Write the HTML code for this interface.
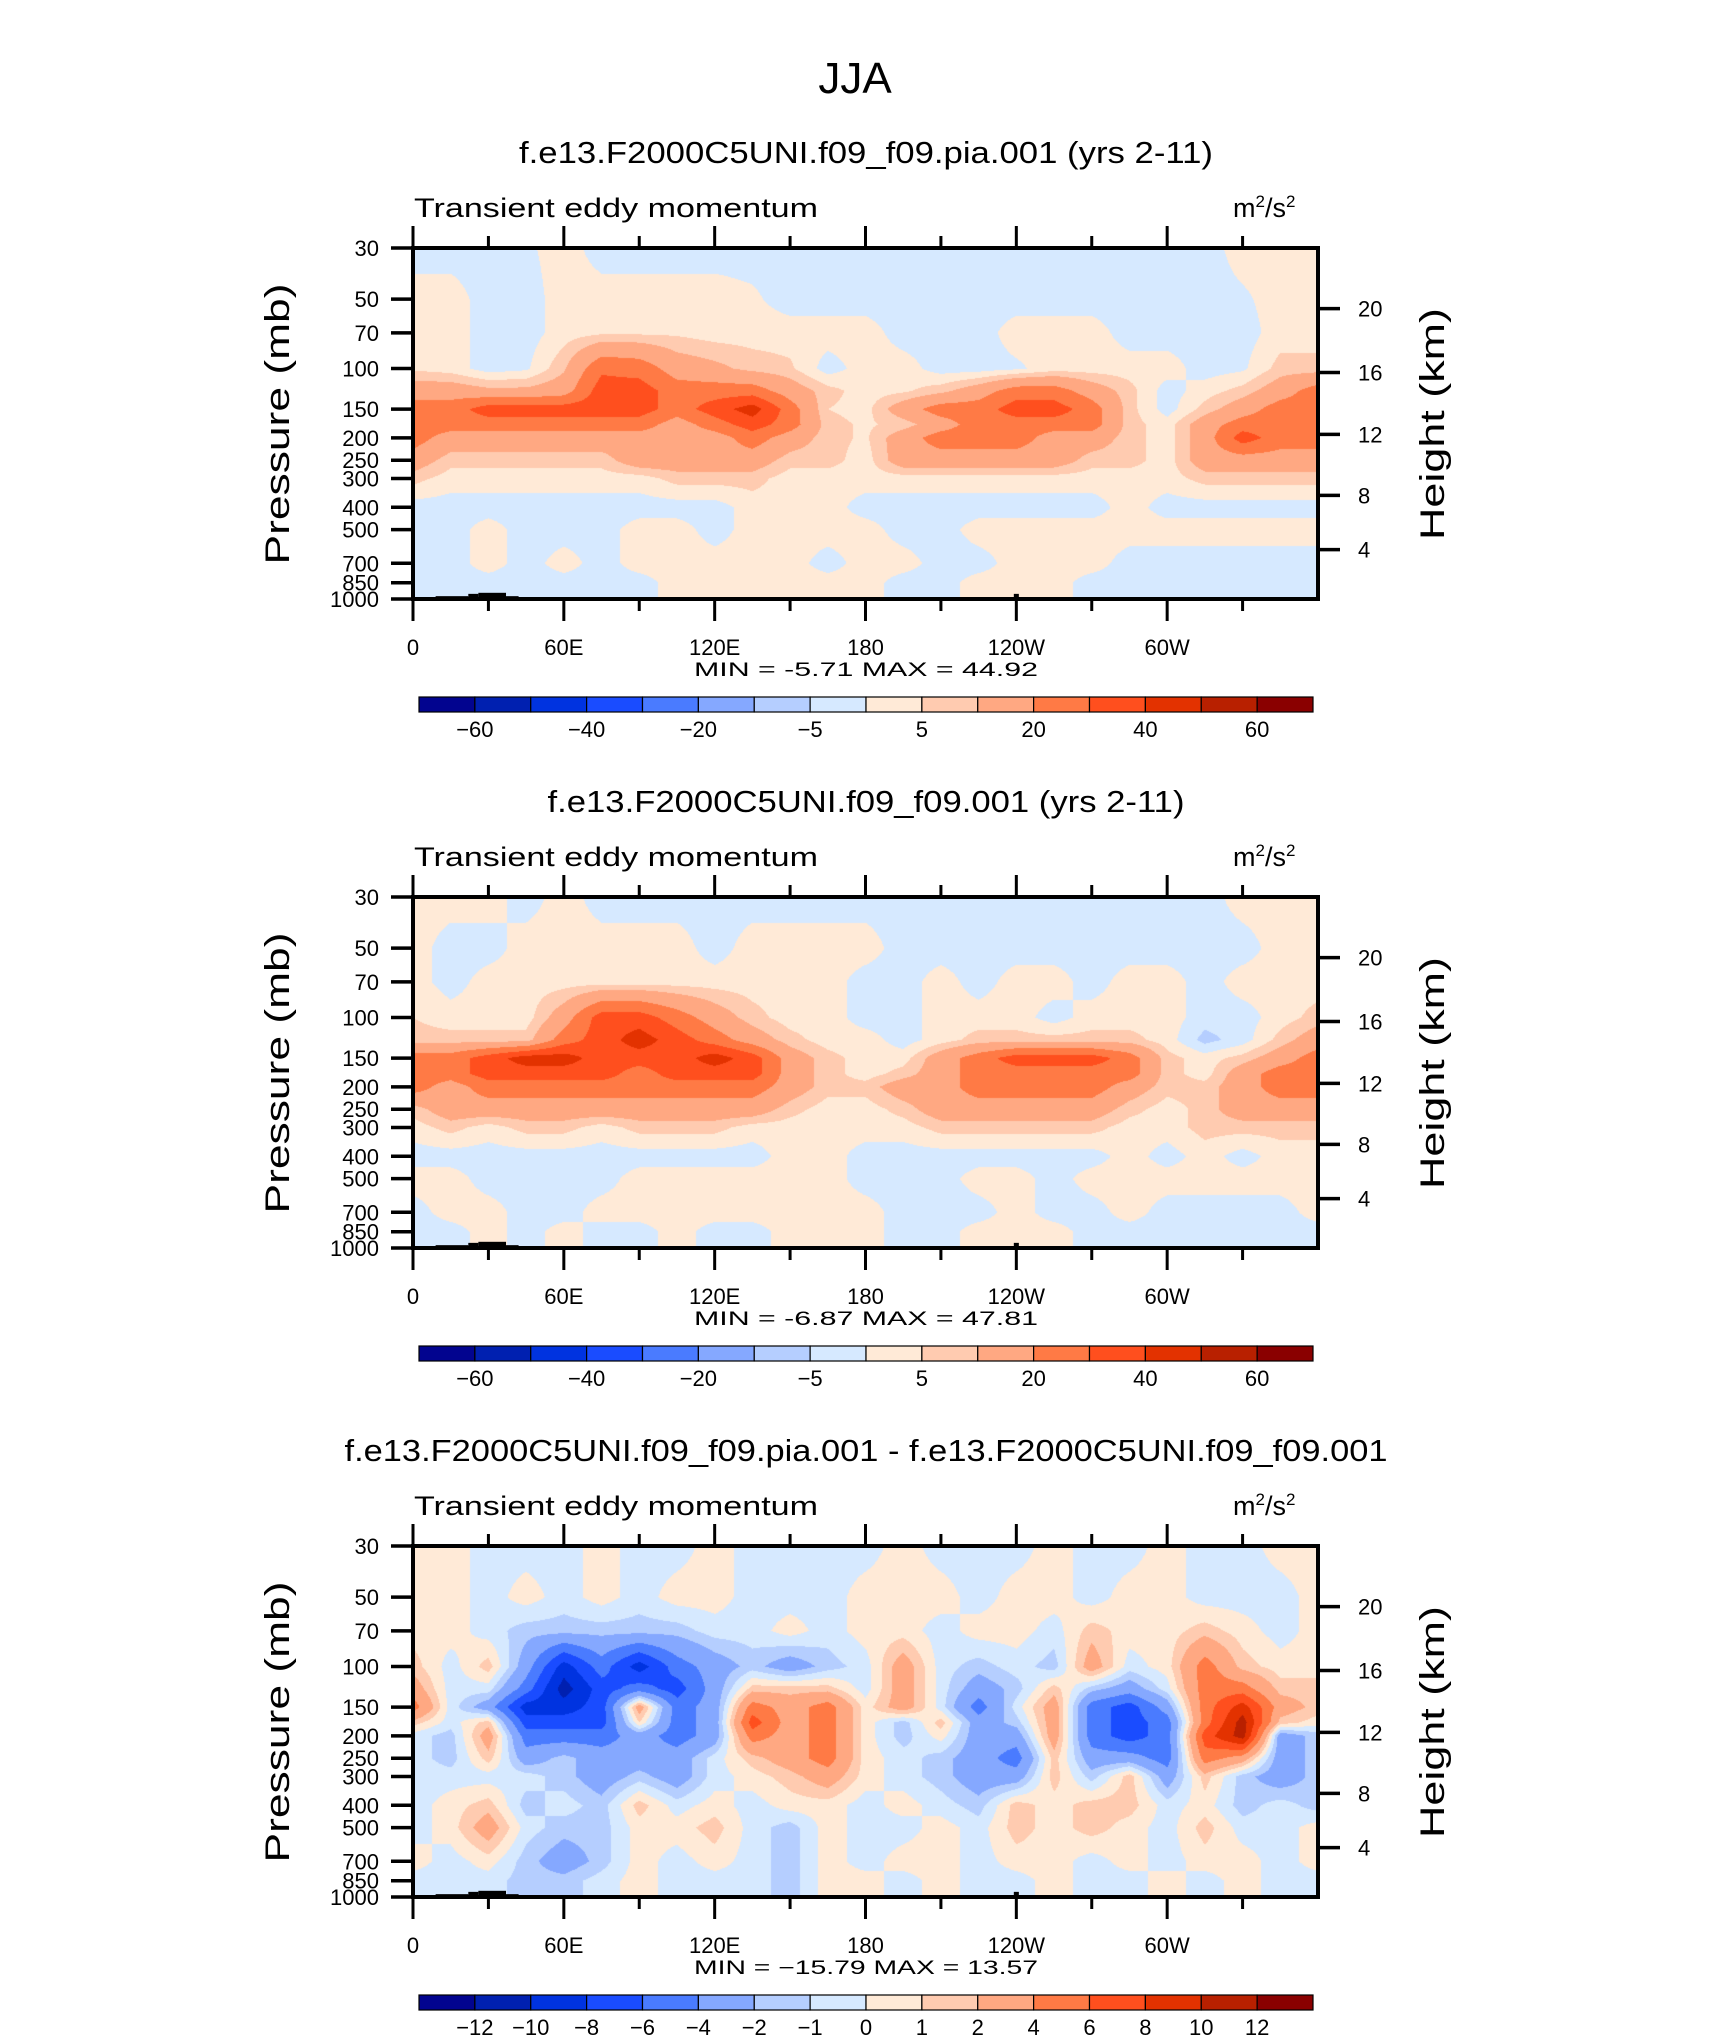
<!DOCTYPE html>
<html><head><meta charset="utf-8"><style>
html,body{margin:0;padding:0;background:#fff;}
#wrap{position:relative;width:1710px;height:2038px;overflow:hidden;background:#fff;}
canvas{position:absolute;}
svg{position:absolute;left:0;top:0;}
text{font-family:"Liberation Sans",sans-serif;fill:#000;}
</style></head><body>
<div id="wrap">
<canvas id="c0" width="905" height="351" style="left:413px;top:248px"></canvas>
<canvas id="c1" width="905" height="351" style="left:413px;top:897px"></canvas>
<canvas id="c2" width="905" height="351" style="left:413px;top:1546px"></canvas>
<svg id="s" width="1710" height="2038">
<text x="855" y="93" font-size="44" text-anchor="middle" font-weight="300">JJA</text>
</svg>
</div>
<script>
const plev = [30,50,70,100,125,150,175,200,250,300,400,500,700,850,1000];
const lons = [0,15,30,45,60,75,90,105,120,135,150,165,180,195,210,225,240,255,270,285,300,315,330,345,360];
const pTicks = [30,50,70,100,150,200,250,300,400,500,700,850,1000];
const hTickLabels = [20,16,12,8,4];
const hTickPress = [55,104,193,355,611];
const lonTicks = [0,30,60,90,120,150,180,210,240,270,300,330,360];
const lonLabels = ["0","","60E","","120E","","180","","120W","","60W","",""];
const levA = [-60,-50,-40,-30,-20,-10,-5,0,5,10,20,30,40,50,60];
const levB = [-12,-10,-8,-6,-4,-2,-1,0,1,2,4,6,8,10,12];
const labA = ["-60","","-40","","-20","","-5","","5","","20","","40","","60"];
const labB = ["-12","-10","-8","-6","-4","-2","-1","0","1","2","4","6","8","10","12"];
const colors = ["#02048f","#0020b0","#0033e0","#1a4cff","#4a7bff","#85a8ff","#b5ceff","#d6e9ff","#ffead7","#ffcbb0","#ffa882","#ff7a45","#ff4f1e","#e33200","#b82000","#8a0000"];
const titles = ["f.e13.F2000C5UNI.f09_f09.pia.001 (yrs 2-11)","f.e13.F2000C5UNI.f09_f09.001 (yrs 2-11)","f.e13.F2000C5UNI.f09_f09.pia.001 - f.e13.F2000C5UNI.f09_f09.001"];
const titleWidths = [694,637,1043];
const minVals = ["-5.71","-6.87","\u221215.79"];
const maxVals = ["44.92","47.81","13.57"];
const topoSegLon0 = [9,22,26,37,239,241];
const topoSegLon1 = [22,26,37,42,241,258];
const topoSegP = [972,950,940,972,950,988];

const F1 = [
[-2.5,-2.5,-2.5,-1,2.5,-2.5,-2.5,-2.5,-2.5,-2.5,-2.5,-2.5,-2.5,-2.5,-2.5,-2.5,-2.5,-2.5,-2.5,-2.5,-2.5,-2.5,2.5,2.5,2.5],
[2.5,2.5,-2.5,-2.5,2.5,2.5,2.5,2.5,2.5,1,-2.5,-2.5,-2.5,-2.5,-2.5,-2.5,-2.5,-2.5,-2.5,-2.5,-2.5,-2.5,-1,2.5,2.5],
[2.5,2.5,-2.5,-2.5,2.5,4,4,4,2.5,2.5,2.5,2.5,2.5,-2.5,-2.5,-2.5,2.5,2.5,2.5,-2.5,-2.5,-2.5,-2.5,2.5,2.5],
[4,2.5,-2.5,-1,9,28,26,15,12,8,6,-2.5,2.5,2.5,-2.5,-2.5,-1,2.5,2.5,2.5,2.5,-2.5,-1,7,7],
[15,15,12,12,15,35,35,25,25,25,15,7,2.5,4,8,15,25,25,15,7,-2.5,2.5,7,15,25],
[25,25,35,35,35,35,35,25,35,45,25,5,3,15,25,25,35,35,25,7,-2.5,7,15,25,25],
[25,25,25,25,25,25,25,15,25,35,25,7,4,7,15,25,25,25,25,7,2.5,15,25,25,25],
[25,15,15,15,15,15,15,15,15,25,15,7,4,15,25,25,25,15,15,7,2.5,15,35,25,25],
[15,7,7,7,7,7,15,15,15,15,7,7,2.5,15,15,15,15,15,7,7,2.5,15,15,15,15],
[7,2.5,2.5,2.5,2.5,2.5,2.5,7,7,7,2.5,2.5,2.5,2.5,2.5,2.5,2.5,2.5,2.5,2.5,2.5,7,7,7,7],
[-2.5,-2.5,-2.5,-2.5,-2.5,-2.5,-2.5,-2.5,-2.5,2.5,2.5,2.5,-2.5,-2.5,-2.5,-2.5,-2.5,-2.5,-2.5,2.5,-2.5,-2.5,-2.5,-2.5,-2.5],
[-2.5,-2.5,2.5,-2.5,-2.5,-2.5,2.5,2.5,-2.5,2.5,2.5,2.5,2.5,-2.5,-2.5,2.5,2.5,2.5,2.5,2.5,2.5,2.5,2.5,2.5,2.5],
[-2.5,-2.5,2.5,-2.5,2.5,-2.5,2.5,2.5,2.5,2.5,2.5,-2.5,2.5,2.5,-2.5,-2.5,2.5,2.5,2.5,-2.5,-2.5,-2.5,-2.5,-2.5,-2.5],
[-2.5,-2.5,-2.5,-2.5,-2.5,-2.5,-2.5,2.5,2.5,2.5,2.5,2.5,2.5,-2.5,-2.5,2.5,2.5,2.5,-2.5,-2.5,-2.5,-2.5,-2.5,-2.5,-2.5],
[-2.5,-2.5,-2.5,-2.5,-2.5,-2.5,-2.5,2.5,2.5,2.5,2.5,2.5,2.5,-2.5,-2.5,2.5,2.5,2.5,-2.5,-2.5,-2.5,-2.5,-2.5,-2.5,-2.5]];

const F2 = [
[2.5,2.5,2.5,-2.5,2.5,-2.5,-2.5,-2.5,-2.5,-2.5,-2.5,-2.5,-2.5,-2.5,-2.5,-2.5,-2.5,-2.5,-2.5,-2.5,-2.5,-2.5,2.5,2.5,2.5],
[2.5,-2.5,-2.5,2.5,2.5,2.5,2.5,2.5,-2.5,2.5,2.5,2.5,2.5,-2.5,-2.5,-2.5,-2.5,-2.5,-2.5,-2.5,-2.5,-2.5,-2.5,2.5,2.5],
[2.5,-2.5,2.5,2.5,2.5,2.5,2.5,2.5,2.5,2.5,2.5,2.5,-2.5,-2.5,2.5,-2.5,2.5,2.5,-2.5,2.5,2.5,-2.5,2.5,2.5,2.5],
[5,2.5,2.5,2.5,15,35,35,25,15,7,2.5,2.5,-2.5,-2.5,2.5,2.5,2.5,-2.5,2.5,2.5,2.5,-2.5,-2.5,2.5,7],
[7,7,7,7,25,35,45,35,25,15,7,2.5,2.5,-2.5,2.5,7,7,7,7,7,2.5,-7,-2.5,7,15],
[25,25,35,45,45,35,35,35,45,35,15,7,2.5,2.5,15,25,35,35,35,25,7,2.5,7,15,25],
[25,25,35,35,35,35,25,35,35,35,15,7,2.5,7,15,25,25,25,25,25,7,2.5,15,25,25],
[25,15,25,25,25,25,25,25,25,25,15,7,7,15,15,25,25,25,25,15,7,7,15,25,25],
[7,15,15,15,15,15,15,15,15,15,7,2.5,2.5,7,15,15,15,15,15,7,2.5,7,15,15,15],
[2.5,7,2.5,7,7,2.5,7,7,7,2.5,2.5,2.5,2.5,2.5,7,7,7,7,7,2.5,2.5,7,7,7,7],
[-2.5,-2.5,-2.5,-2.5,-2.5,-2.5,-2.5,-2.5,-2.5,-2.5,2.5,2.5,-2.5,-2.5,-2.5,-2.5,-2.5,-2.5,-2.5,2.5,-2.5,2.5,-2.5,2.5,2.5],
[2.5,2.5,-2.5,-2.5,-2.5,-2.5,2.5,2.5,2.5,2.5,2.5,2.5,-2.5,-2.5,-2.5,2.5,2.5,-2.5,2.5,2.5,2.5,2.5,2.5,2.5,2.5],
[-2.5,2.5,2.5,-2.5,-2.5,2.5,2.5,2.5,2.5,2.5,2.5,2.5,2.5,-2.5,-2.5,-2.5,2.5,-2.5,-2.5,2.5,-2.5,-2.5,-2.5,-2.5,2.5],
[-2.5,-2.5,2.5,-2.5,2.5,-2.5,-2.5,2.5,-2.5,-2.5,2.5,2.5,2.5,-2.5,-2.5,2.5,2.5,2.5,-2.5,-2.5,-2.5,-2.5,-2.5,-2.5,-2.5],
[-2.5,-2.5,2.5,-2.5,2.5,-2.5,-2.5,2.5,-2.5,-2.5,2.5,2.5,2.5,-2.5,-2.5,2.5,2.5,2.5,-2.5,-2.5,-2.5,-2.5,-2.5,-2.5,-2.5]];

const F3 = [
[0.5,0.5,-0.5,-0.5,-0.5,0.5,-0.5,-0.5,0.5,-0.5,-0.5,-0.5,-0.5,0.5,-0.5,-0.5,-0.5,0.5,-0.5,-0.5,0.5,-0.5,-0.5,0.5,0.5],
[0.5,0.5,-0.5,0.5,-0.5,0.5,-0.5,0.5,0.5,-0.5,-0.5,-0.5,0.5,0.5,0.5,-0.5,0.5,0.5,-0.5,0.5,0.5,-0.5,-0.5,-0.5,0.5],
[0.5,0.5,-0.5,-1.5,-1.5,-1.5,-1.5,-1.5,-0.5,-0.5,0.5,-0.5,0.5,0.5,-0.5,0.5,0.5,-0.5,1.5,0.5,0.5,1.5,0.5,-0.5,0.5],
[1.5,-0.5,1.5,-3,-9,-5,-9,-5,-3,-1.5,-3,-1.5,-0.5,3,-0.5,-1.5,-0.5,-1.5,3,-0.5,0.5,5,1.5,0.5,0.5],
[3,-0.5,-0.5,-5,-11,-7,-5,-7,-3,1.5,1.5,1.5,-0.5,3,-0.5,-3,-1.5,1.5,-1.5,-3,-0.5,5,5,1.5,1.5],
[5,-0.5,-3,-9,-9,-7,3,-5,-3,5,3,5,0.5,3,-0.5,-5,-0.5,3,-5,-7,-3,5,9,3,1.5],
[1.5,-0.5,1.5,-7,-7,-7,1,-5,-3,7,3,5,0.5,-1.5,1.5,-3,-1.5,3,-5,-7,-5,5,11,1.5,0.5],
[-0.5,-1.5,3,-5,-5,-5,-3,-5,-3,5,3,5,0.5,-1.5,0.5,-3,-3,3,-5,-7,-5,7,11,-3,-1.5],
[-0.5,-1.5,1.5,-3,-1.5,-3,-3,-3,-0.5,1.5,3,5,0.5,-0.5,-1.5,-3,-5,1.5,-3,-3,-5,5,3,-3,-1.5],
[-0.5,-0.5,-0.5,-0.5,-1.5,-3,-1.5,-3,-0.5,0.5,1.5,3,0.5,-0.5,-1.5,-3,-3,1.5,-1.5,1.5,-3,1.5,-1.5,-3,-1.5],
[-0.5,0.5,1.5,-1.5,-0.5,-1.5,1.5,-0.5,0.5,-0.5,0.5,0.5,-0.5,0.5,-0.5,-1.5,1.5,0.5,1.5,1.5,-0.5,0.5,-1.5,-0.5,-1.5],
[-0.5,0.5,3,-0.5,-1.5,-1.5,0.5,0.5,1.5,-0.5,-1.5,0.5,-0.5,-0.5,0.5,-0.5,1.5,0.5,1.5,0.5,-0.5,1.5,-0.5,-0.5,0.5],
[0.5,-0.5,0.5,-1.5,-3,-1.5,0.5,-0.5,0.5,-0.5,-1.5,0.5,-0.5,0.5,0.5,-0.5,0.5,0.5,-0.5,0.5,-0.5,0.5,0.5,-0.5,0.5],
[-0.5,-0.5,-0.5,-1.5,-1.5,-0.5,0.5,-0.5,-0.5,-0.5,-1.5,0.5,0.5,-0.5,0.5,-0.5,-0.5,0.5,-0.5,-0.5,0.5,-0.5,0.5,-0.5,-0.5],
[-0.5,-0.5,-0.5,-1.5,-1.5,-0.5,0.5,-0.5,-0.5,-0.5,-1.5,0.5,0.5,-0.5,0.5,-0.5,-0.5,0.5,-0.5,-0.5,0.5,-0.5,0.5,-0.5,-0.5]];

const fields = [F1,F2,F3];
const panelLevels = [levA,levA,levB];
const panelLabels = [labA,labA,labB];

const L=413, R=1318, H=351, W=905, T0=248, DY=649;
const LN = Math.log(1000/30);
function xOfLon(lon){return L + (lon/360)*W;}
function yOfP(p,T){return T + H*Math.log(p/30)/LN;}
function hex(c){return [parseInt(c.substr(1,2),16),parseInt(c.substr(3,2),16),parseInt(c.substr(5,2),16)];}
const rgb = colors.map(hex);
const lnLev = plev.map(p=>Math.log(p));

function classOf(v,lev){let k=0;for(let i=0;i<lev.length;i++){if(v>=lev[i])k=i+1;}return k;}

function drawField(idx){
  const cv=document.getElementById('c'+idx); const ctx=cv.getContext('2d');
  const img=ctx.createImageData(W,H); const F=fields[idx]; const lev=panelLevels[idx];
  for(let py=0;py<H;py++){
    const lp=Math.log(30)+(py+0.5)/H*LN;
    let r=0; while(r<lnLev.length-2 && lp>lnLev[r+1]) r++;
    const fy=Math.min(1,Math.max(0,(lp-lnLev[r])/(lnLev[r+1]-lnLev[r])));
    for(let px=0;px<W;px++){
      const lon=(px+0.5)/W*360; let c=Math.min(23,Math.floor(lon/15)); const fx=(lon-lons[c])/15;
      const v=(1-fy)*((1-fx)*F[r][c]+fx*F[r][c+1])+fy*((1-fx)*F[r+1][c]+fx*F[r+1][c+1]);
      const col=rgb[classOf(v,lev)]; const o=(py*W+px)*4;
      img.data[o]=col[0];img.data[o+1]=col[1];img.data[o+2]=col[2];img.data[o+3]=255;
    }
  }
  ctx.putImageData(img,0,0);
}
[0,1,2].forEach(drawField);

const svg=document.getElementById('s'); const NS='http://www.w3.org/2000/svg';
function mk(tag,attrs,parent){const e=document.createElementNS(NS,tag);for(const k in attrs)e.setAttribute(k,attrs[k]);(parent||svg).appendChild(e);return e;}
function line(x1,y1,x2,y2,w,g){return mk('line',{x1:x1,y1:y1,x2:x2,y2:y2,stroke:'#000','stroke-width':w},g);}

for(let i=0;i<3;i++){
  const T=T0+DY*i, B=T+H;
  const g=mk('g',{});
  
  
  for(let k=0;k<topoSegLon0.length;k++){
    const r=mk('rect',{x:xOfLon(topoSegLon0[k]),y:yOfP(topoSegP[k],T),width:xOfLon(topoSegLon1[k])-xOfLon(topoSegLon0[k]),height:B-yOfP(topoSegP[k],T),fill:'#000'},g);
    
    
  }
  const t=mk('text',{x:866,y:T-85,'font-size':31,'text-anchor':'middle',textLength:titleWidths[i],lengthAdjust:'spacingAndGlyphs'},g);
  t.textContent=titles[i];
  
  
  const st=mk('text',{x:414,y:T-31,'font-size':27,textLength:404,lengthAdjust:'spacingAndGlyphs'},g);
  st.textContent='Transient eddy momentum';
  
  
  const u=mk('text',{x:1233,y:T-31,'font-size':27},g);
  u.innerHTML='m<tspan dy="-10" font-size="17">2</tspan><tspan dy="10">/s</tspan><tspan dy="-10" font-size="17">2</tspan>';
  
  
  const fr=mk('rect',{x:L,y:T,width:W,height:H,fill:'none',stroke:'#000','stroke-width':4},g);
  
  
  pTicks.forEach(p=>{
    const y=yOfP(p,T); line(L-22,y,L,y,3.5,g);
    const lt=mk('text',{x:379,y:y+8,'font-size':22,'text-anchor':'end'},g);
    lt.textContent=p;
    
    
  });
  hTickPress.forEach((p,k)=>{
    const y=yOfP(p,T); line(R,y,R+22,y,3.5,g);
    const lt=mk('text',{x:1358,y:y+8,'font-size':22},g);
    lt.textContent=hTickLabels[k];
    
    
  });
  lonTicks.forEach((lon,k)=>{
    const x=xOfLon(lon); const maj=(k%2===0); const len=maj?22:12;
    if(lon<360){line(x,T-len,x,T,3,g); line(x,B,x,B+len,3,g);}
    if(lonLabels[k]){
      const lt=mk('text',{x:x,y:B+56,'font-size':22,'text-anchor':'middle'},g);
      lt.textContent=lonLabels[k];
      
      
    }
  });
  const mm=mk('text',{x:694,y:B+77,'font-size':19,textLength:344,lengthAdjust:'spacingAndGlyphs'},g);
  mm.textContent='MIN = '+minVals[i]+'  MAX = '+maxVals[i];
  
  
  const yl=mk('text',{x:0,y:0,'font-size':34,'text-anchor':'middle',textLength:281,lengthAdjust:'spacingAndGlyphs',transform:'translate(289,'+(T+176)+') rotate(-90)'},g);
  yl.textContent='Pressure (mb)';
  
  
  const yr=mk('text',{x:0,y:0,'font-size':34,'text-anchor':'middle',textLength:232,lengthAdjust:'spacingAndGlyphs',transform:'translate(1444,'+(T+176)+') rotate(-90)'},g);
  yr.textContent='Height (km)';
  
  
  const cbY=697+DY*i, cbX0=419, cbX1=1313, bw=(cbX1-cbX0)/16;
  for(let k=0;k<16;k++){
    const r=mk('rect',{x:cbX0+k*bw,y:cbY,width:bw,height:15,fill:colors[k],stroke:'#000','stroke-width':1.2},g);
    
    
  }
  panelLabels[i].forEach((lab,k)=>{
    if(!lab) return;
    const lt=mk('text',{x:cbX0+(k+1)*bw,y:cbY+40,'font-size':22,'text-anchor':'middle'},g);
    lt.textContent=lab.replace('-','\u2212');
    
    
  });
}
</script>
</body></html>
